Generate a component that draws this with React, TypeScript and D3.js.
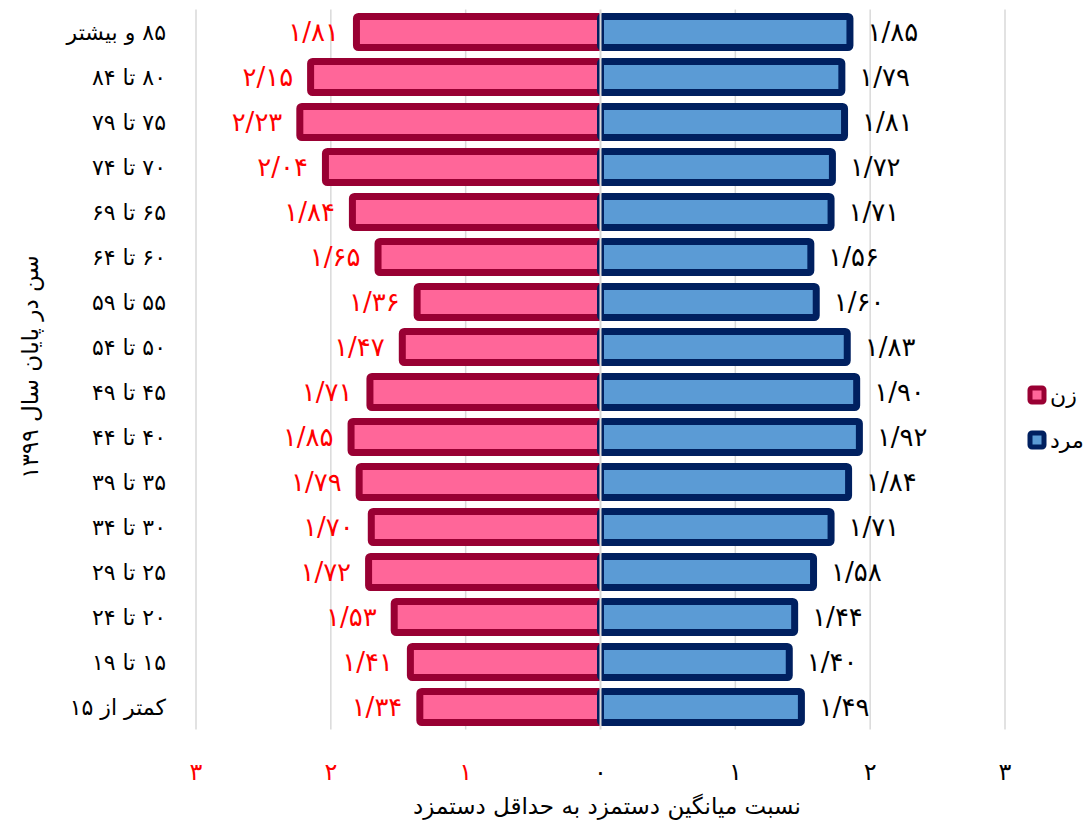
import React from "react";
import * as d3 from "d3";

const categories = [
  "۸۵ و بیشتر",
  "۸۰ تا ۸۴",
  "۷۵ تا ۷۹",
  "۷۰ تا ۷۴",
  "۶۵ تا ۶۹",
  "۶۰ تا ۶۴",
  "۵۵ تا ۵۹",
  "۵۰ تا ۵۴",
  "۴۵ تا ۴۹",
  "۴۰ تا ۴۴",
  "۳۵ تا ۳۹",
  "۳۰ تا ۳۴",
  "۲۵ تا ۲۹",
  "۲۰ تا ۲۴",
  "۱۵ تا ۱۹",
  "کمتر از ۱۵",
];
const women = [1.81, 2.15, 2.23, 2.04, 1.84, 1.65, 1.36, 1.47, 1.71, 1.85, 1.79, 1.7, 1.72, 1.53, 1.41, 1.34];
const men = [1.85, 1.79, 1.81, 1.72, 1.71, 1.56, 1.6, 1.83, 1.9, 1.92, 1.84, 1.71, 1.58, 1.44, 1.4, 1.49];
const ticks = [-3, -2, -1, 0, 1, 2, 3];
const seriesNames = ["زن", "مرد"];
const xTitle = "نسبت میانگین دستمزد به حداقل دستمزد";
const yTitle = "سن در پایان سال ۱۳۹۹";

const FONT = "'DejaVu Sans', sans-serif";
const faDigits = "۰۱۲۳۴۵۶۷۸۹";
const toFa = (s: string) => s.replace(/[0-9]/g, (d) => faDigits[+d]).replace(/\./g, "/");
const rtl = (s: string) => "\u202B" + s + "\u202C";

const W = 1092;
const H = 825;

export default function App() {
  const x = d3.scaleLinear().domain([-3, 3]).range([196, 1005]);
  const y = d3.scaleBand<string>().domain(categories).range([9.5, 729.5]).padding(0);
  const bh = 31;
  const sw = 7;
  const womenFill = "#FF6699";
  const womenStroke = "#990033";
  const menFill = "#5B9BD5";
  const menStroke = "#002060";
  const grid = "#d9d9d9";

  return (
    <svg width={W} height={H} style={{ position: "absolute", left: 0, top: 0, background: "#fff" }} fontFamily={FONT}>
      {ticks.filter((t) => t !== 0).map((t) => (
        <line key={"g" + t} x1={x(t)} x2={x(t)} y1={9.5} y2={729.5} stroke={grid} strokeWidth={1.5} />
      ))}
      {categories.map((c, i) => {
        const cy = (y(c) as number) + y.bandwidth() / 2;
        return (
          <g key={c}>
            <rect x={x(-women[i])} y={cy - bh / 2} width={x(0) - x(-women[i])} height={bh}
              fill={womenFill} stroke={womenStroke} strokeWidth={sw} rx={2} />
            <rect x={x(0)} y={cy - bh / 2} width={x(men[i]) - x(0)} height={bh}
              fill={menFill} stroke={menStroke} strokeWidth={sw} rx={2} />
            <text x={x(-women[i]) - sw / 2 - 14} y={cy} dy="0.35em" textAnchor="end" fontSize={26} fill="#FF0000">
              {rtl(toFa(women[i].toFixed(2)))}
            </text>
            <text x={x(men[i]) + sw / 2 + 14} y={cy} dy="0.35em" textAnchor="start" fontSize={26} fill="#000">
              {rtl(toFa(men[i].toFixed(2)))}
            </text>
            <text x={166} y={cy} dy="0.35em" textAnchor="end" fontSize={22} fill="#000">
              {rtl(c)}
            </text>
          </g>
        );
      })}
      <line x1={x(0)} x2={x(0)} y1={9.5} y2={729.5} stroke={grid} strokeWidth={2} />
      {ticks.map((t) => (
        <text key={"t" + t} x={x(t)} y={772} dy="0.35em" textAnchor="middle" fontSize={24}
          fill={t < 0 ? "#FF0000" : "#000"}>
          {toFa(String(Math.abs(t)))}
        </text>
      ))}
      <text x={607} y={806} dy="0.35em" textAnchor="middle" fontSize={23} fill="#000">{rtl(xTitle)}</text>
      <text transform={`translate(30,367) rotate(-90)`} textAnchor="middle" dy="0.35em" fontSize={23} fill="#000">{rtl(yTitle)}</text>
      {seriesNames.map((s, i) => {
        const ly = 395 + i * 45;
        return (
          <g key={s}>
            <rect x={1030} y={ly - 7} width={14} height={14} fill={i === 0 ? womenFill : menFill}
              stroke={i === 0 ? womenStroke : menStroke} strokeWidth={5} rx={2} />
            <text x={1050} y={ly} dy="0.35em" textAnchor="start" fontSize={22} fill="#000">{rtl(s)}</text>
          </g>
        );
      })}
    </svg>
  );
}
